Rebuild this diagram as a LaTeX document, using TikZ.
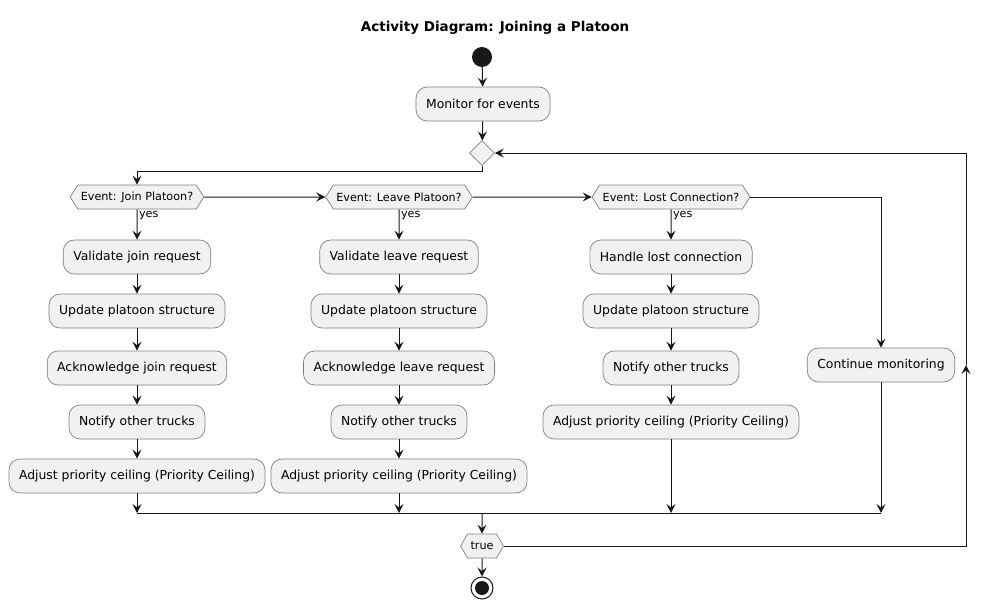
\documentclass[tikz,border=0pt]{standalone}
\usepackage{fontspec}
\setmainfont{DejaVu Sans}
\usepackage{xcolor}
\usepackage{tikz}
\usetikzlibrary{arrows.meta,positioning,shapes.geometric,shapes.symbols}

\definecolor{actfill}{HTML}{F1F1F1}
\definecolor{actline}{HTML}{181818}

\begin{document}
\begin{tikzpicture}[
    x=1pt, y=-1pt,
    action/.style={
        rectangle,
        draw=actline!55,
        line width=0.7pt,
        fill=actfill,
        rounded corners=11pt,
        minimum height=34pt,
        inner xsep=10pt,
        font=\fontsize{12.4}{15}\selectfont
    },
    decision/.style={
        signal,
        signal to=west and east,
        signal pointer angle=115,
        draw=actline!55,
        line width=0.7pt,
        fill=actfill,
        minimum height=24pt,
        inner xsep=3pt,
        inner ysep=2pt,
        font=\fontsize{11.2}{13}\selectfont
    },
    merge/.style={diamond, draw=actline!55, line width=0.7pt, fill=actfill, minimum size=25pt, inner sep=0pt},
    flow/.style={-{Stealth[length=9pt, width=9pt, inset=3.5pt]}, line width=1pt, draw=actline},
    line/.style={line width=1pt, draw=actline},
    guard/.style={font=\fontsize{11.2}{13}\selectfont, anchor=north west, inner sep=1.5pt}
]

\fill[white] (0,0) rectangle (991,610);
\useasboundingbox (0,0) rectangle (991,610);

% Title and start
\node[font=\bfseries\fontsize{13.5}{16}\selectfont] (title) at (495,28) {Activity Diagram: Joining a Platoon};
\node[circle, fill=actline, minimum size=20pt, inner sep=0pt] (start) at (482,57) {};
\node[action] (monitor) at (483,104) {Monitor for events};
\node[merge] (loop) at (482,153) {};

% Event checks
\node[decision] (join) at (137,197) {Event: Join Platoon?};
\node[decision] (leave) at (399,197) {Event: Leave Platoon?};
\node[decision] (lost) at (671,197) {Event: Lost Connection?};

% Join branch
\node[action] (joinA) at (137,257) {Validate join request};
\node[action] (joinB) at (137,311) {Update platoon structure};
\node[action] (joinC) at (137,368) {Acknowledge join request};
\node[action] (joinD) at (137,422) {Notify other trucks};
\node[action] (joinE) at (137,476) {Adjust priority ceiling (Priority Ceiling)};

% Leave branch
\node[action] (leaveA) at (399,257) {Validate leave request};
\node[action] (leaveB) at (399,311) {Update platoon structure};
\node[action] (leaveC) at (399,368) {Acknowledge leave request};
\node[action] (leaveD) at (399,422) {Notify other trucks};
\node[action] (leaveE) at (399,476) {Adjust priority ceiling (Priority Ceiling)};

% Lost connection branch
\node[action] (lostA) at (671,257) {Handle lost connection};
\node[action] (lostB) at (671,311) {Update platoon structure};
\node[action] (lostC) at (671,368) {Notify other trucks};
\node[action] (lostD) at (671,422) {Adjust priority ceiling (Priority Ceiling)};

% Otherwise
\node[action] (cont) at (881,365) {Continue monitoring};

% End of loop
\coordinate (bar) at (482,513);
\node[decision, signal pointer angle=120] (again) at (482,546) {true};
\node[circle, draw=actline, line width=1pt, fill=white, minimum size=22pt, inner sep=0pt] (stop) at (482,588) {};
\node[circle, fill=actline, minimum size=14pt, inner sep=0pt] (stopdot) at (stop) {};
\coordinate (back) at (966,365);

% Main flow
\draw[flow] (start) -- (monitor);
\draw[flow] (monitor) -- (loop);
\draw[flow] (loop.south) -- ++(0,6) -| (join.north);
\draw[flow] (join) -- (leave);
\draw[flow] (leave) -- (lost);
\draw[flow] (lost.east) -| (cont.north);

% Branch chains
\draw[flow] (join) -- node[guard, pos=0] {yes} (joinA);
\draw[flow] (joinA) -- (joinB);
\draw[flow] (joinB) -- (joinC);
\draw[flow] (joinC) -- (joinD);
\draw[flow] (joinD) -- (joinE);

\draw[flow] (leave) -- node[guard, pos=0] {yes} (leaveA);
\draw[flow] (leaveA) -- (leaveB);
\draw[flow] (leaveB) -- (leaveC);
\draw[flow] (leaveC) -- (leaveD);
\draw[flow] (leaveD) -- (leaveE);

\draw[flow] (lost) -- node[guard, pos=0] {yes} (lostA);
\draw[flow] (lostA) -- (lostB);
\draw[flow] (lostB) -- (lostC);
\draw[flow] (lostC) -- (lostD);

% Merge bar
\draw[line] (joinE.south |- bar) -- (cont.south |- bar);
\draw[flow] (joinE) -- (joinE |- bar);
\draw[flow] (leaveE) -- (leaveE |- bar);
\draw[flow] (lostD) -- (lostD |- bar);
\draw[flow] (cont) -- (cont |- bar);
\draw[flow] (bar) -- (again);

% Repeat and stop
\draw[flow] (again.east) -| (back);
\draw[flow] (back) |- (loop.east);
\draw[flow] (again) -- (stop);

\end{tikzpicture}
\end{document}
